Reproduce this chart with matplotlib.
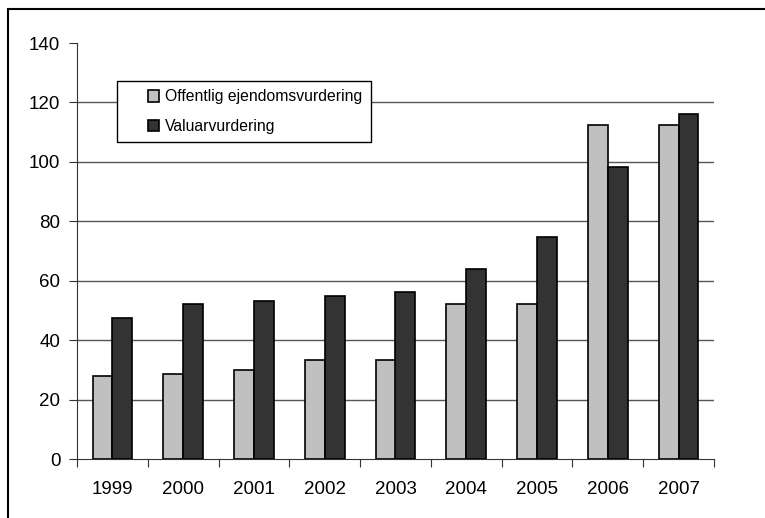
import numpy as np
import matplotlib
matplotlib.use("Agg")
import matplotlib.pyplot as plt
from matplotlib.patches import Rectangle
from matplotlib.container import BarContainer
from matplotlib.legend_handler import HandlerPatch, update_from_first_child

plt.rcParams['font.family'] = ['Liberation Sans', 'DejaVu Sans']

years = ['1999', '2000', '2001', '2002', '2003', '2004', '2005', '2006', '2007']
offentlig = [28, 28.5, 30, 33.3, 33.3, 52, 52, 112.3, 112.3]
valuar = [47.3, 52.2, 53.2, 54.8, 56.3, 64, 74.6, 98.4, 116.2]

fig = plt.figure(figsize=(7.65, 5.18), dpi=100)
ax = fig.add_axes([77 / 765, 1 - 459 / 518, 637 / 765, 416 / 518])

# outer chart border (only top and left visible)
fig.patches.append(Rectangle((8 / 765, -0.1), 1.2, 1 - 9 / 518 + 0.1, transform=fig.transFigure,
                             fill=False, edgecolor='black', linewidth=1.5))

x = np.arange(len(years))
w = 0.28
ax.bar(x - w / 2, offentlig, w, color='#c0c0c0', edgecolor='black', linewidth=1.2,
       label='Offentlig ejendomsvurdering', zorder=3)
ax.bar(x + w / 2, valuar, w, color='#333333', edgecolor='black', linewidth=1.2,
       label='Valuarvurdering', zorder=3)

ax.set_xlim(-0.5, len(years) - 0.5)
ax.set_ylim(0, 140)
ax.set_yticks(range(0, 141, 20))
for yv in range(20, 140, 20):
    ax.axhline(yv, color='#555555', linewidth=1, zorder=1)

ax.set_xticks(np.arange(-0.5, len(years), 1))
ax.set_xticklabels([])
ax.set_xticks(x, minor=True)
ax.set_xticklabels(years, minor=True)
ax.tick_params(axis='x', which='minor', length=0, pad=16, labelsize=13.5)
ax.tick_params(axis='x', which='major', length=6, direction='out', color='#333333')
ax.tick_params(axis='y', length=6, direction='out', labelsize=13.5, pad=6, color='#333333')

for s in ['top', 'right']:
    ax.spines[s].set_visible(False)
ax.spines['left'].set_color('#333333')
ax.spines['bottom'].set_color('#333333')


# small square sitting at the right end of a wide handle box
def square_handle(legend, orig_handle, xdescent, ydescent, width, height, fontsize):
    s = height
    return Rectangle((width - s - xdescent, -ydescent), s, s)


handler = HandlerPatch(patch_func=square_handle, update_func=update_from_first_child)
leg = ax.legend(loc='upper left', bbox_to_anchor=(0.0628, 0.909), fontsize=11.3, frameon=True,
                fancybox=False, edgecolor='black', framealpha=1, handlelength=2.13,
                handleheight=0.72, handletextpad=0.38, borderpad=0.55, borderaxespad=0,
                labelspacing=0.9,
                handler_map={BarContainer: handler})
leg.get_frame().set_linewidth(1)
leg.set_zorder(5)

fig.savefig('out.png', dpi=100)
